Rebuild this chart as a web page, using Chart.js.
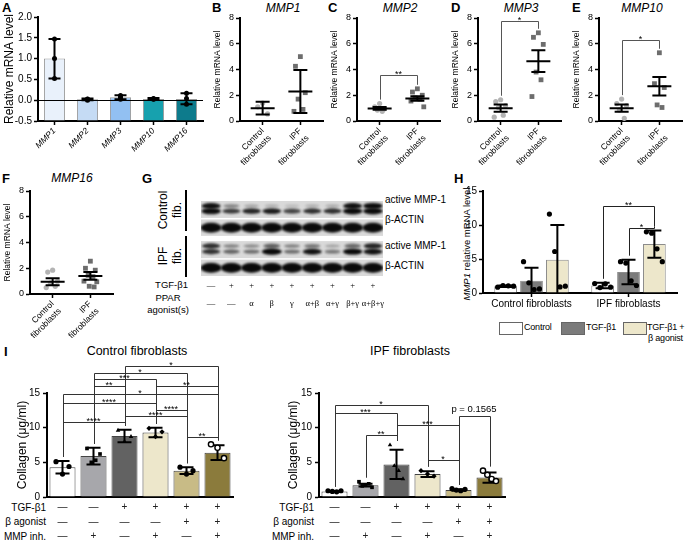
<!DOCTYPE html>
<html>
<head>
<meta charset="utf-8">
<script src="https://cdn.jsdelivr.net/npm/chart.js@4.4.1/dist/chart.umd.min.js"></script>
<style>
body { margin: 0; background: #fff; }
#fig { position: relative; width: 685px; height: 541px; overflow: hidden; background: #fff;
  font-family: Arial, "Liberation Sans", Helvetica, sans-serif; color: #000; }
#fig canvas { position: absolute; }
.t { position: absolute; white-space: nowrap; line-height: 1; }
.lt { font-weight: bold; font-size: 13px; }
.ttl { font-style: italic; font-size: 12px; transform: translateX(-50%); }
.sm { font-size: 10px; }
.lg { font-size: 9px; letter-spacing: -0.2px; }
.rot { transform: translate(-50%, -50%) rotate(-90deg); text-align: center; }
.vl { position: absolute; width: 0; border-left: 2px solid #000; }
.box { position: absolute; width: 22px; height: 11px; border: 1px solid #666; }
</style>
</head>
<body>
<div id="fig">
  <div class="t lt" style="left:2px;top:1px">A</div>
  <div class="t lt" style="left:212px;top:1px">B</div>
  <div class="t lt" style="left:328px;top:1px">C</div>
  <div class="t lt" style="left:451px;top:1px">D</div>
  <div class="t lt" style="left:572px;top:1px">E</div>
  <div class="t lt" style="left:2px;top:172px">F</div>
  <div class="t lt" style="left:142px;top:172px">G</div>
  <div class="t lt" style="left:454px;top:172px">H</div>
  <div class="t lt" style="left:4px;top:345px">I</div>

  <div class="t ttl" style="left:283px;top:2px">MMP1</div>
  <div class="t ttl" style="left:400px;top:2px">MMP2</div>
  <div class="t ttl" style="left:521px;top:2px">MMP3</div>
  <div class="t ttl" style="left:642px;top:2px">MMP10</div>
  <div class="t ttl" style="left:72px;top:172px">MMP16</div>

  <!-- G labels -->
  <div class="t rot" style="left:170px;top:210px;font-size:12px;line-height:14px">Control<br>fib.</div>
  <div class="vl" style="left:185px;top:190px;height:41px"></div>
  <div class="t rot" style="left:170px;top:256px;font-size:12px;line-height:14px">IPF<br>fib.</div>
  <div class="vl" style="left:185px;top:236px;height:41px"></div>
  <div class="t" style="right:497px;top:280px;font-size:9.5px">TGF-β1</div>
  <div class="t" style="left:168px;top:292px;font-size:9.5px;line-height:12px;text-align:center;transform:translateX(-50%)">PPAR<br>agonist(s)</div>
  <div class="t sm" style="left:385px;top:195px">active MMP-1</div>
  <div class="t sm" style="left:385px;top:215px">β-ACTIN</div>
  <div class="t sm" style="left:385px;top:241px">active MMP-1</div>
  <div class="t sm" style="left:385px;top:261px">β-ACTIN</div>

  <!-- H -->
  <div class="t rot" style="left:467px;top:244px;font-size:9.5px"><i>MMP1</i> relative mRNA level</div>
  <div class="box" style="left:499px;top:322px;background:#fff"></div>
  <div class="t lg" style="left:524px;top:323px">Control</div>
  <div class="box" style="left:561px;top:322px;background:#7b7b7b"></div>
  <div class="t lg" style="left:586px;top:323px">TGF-β1</div>
  <div class="box" style="left:623px;top:322px;background:#ede7cb"></div>
  <div class="t lg" style="left:647px;top:323px">TGF-β1 +</div>
  <div class="t lg" style="left:648px;top:334px">β agonist</div>

  <!-- I -->
  <div class="t" style="left:137px;top:345px;font-size:12.5px;transform:translateX(-50%)">Control fibroblasts</div>
  <div class="t" style="left:410px;top:345px;font-size:12.5px;transform:translateX(-50%)">IPF fibroblasts</div>
  <div class="t sm" style="right:639px;top:503px">TGF-β1</div>
  <div class="t sm" style="right:639px;top:517px">β agonist</div>
  <div class="t sm" style="right:639px;top:532px">MMP inh.</div>
  <div class="t sm" style="right:371px;top:503px">TGF-β1</div>
  <div class="t sm" style="right:371px;top:517px">β agonist</div>
  <div class="t sm" style="right:371px;top:532px">MMP inh.</div>
</div>

<script>
// ---- A: MMP expression in control fibroblasts
const aGenes = ['MMP1', 'MMP2', 'MMP3', 'MMP10', 'MMP16'];
const aMeans = [1.0, 0.02, 0.07, 0.03, 0.03];
const aLow = [0.52, 0.0, 0.02, 0.01, -0.1];
const aHigh = [1.47, 0.04, 0.12, 0.05, 0.17];
const aDots = [[1.47, 1.0, 0.52], [0.0, 0.03, 0.02], [0.02, 0.07, 0.11], [0.02, 0.03, 0.04], [-0.1, 0.04, 0.17]];

// ---- B-F: control vs IPF fibroblasts
const groups = ['Control fibroblasts', 'IPF fibroblasts'];
const bCtrl = [1.4, 1.1, 0.55];
const bIpf = [5.0, 4.25, 2.2, 1.7, 0.9, 0.75];
const bMean = [1.0, 2.3];
const bErr = [0.5, 1.67];

const cCtrl = [1.35, 1.1, 0.95, 0.85, 0.75];
const cIpf = [2.5, 2.25, 2.0, 1.8, 1.7, 1.55, 1.1];
const cMean = [0.98, 1.75];
const cErr = [0.1, 0.17];
const cSig = { v: 3.6, t: '**' };

const dCtrl = [1.65, 1.5, 1.2, 1.05, 0.45, 0.3];
const dIpf = [6.85, 6.5, 5.95, 3.8, 3.2, 1.9];
const dMean = [1.0, 4.65];
const dErr = [0.28, 0.84];
const dSig = { v: 7.8, t: '*' };

const eCtrl = [1.7, 1.35, 1.2, 0.85, 0.2];
const eIpf = [5.3, 2.9, 2.6, 1.25, 1.05];
const eMean = [1.0, 2.7];
const eErr = [0.28, 0.72];
const eSig = { v: 6.3, t: '*' };

const fCtrl = [1.85, 1.7, 1.0, 0.85, 0.6, 0.5];
const fIpf = [2.55, 2.0, 1.85, 1.45, 1.35, 1.0, 0.95, 0.6, 0.55];
const fMean = [0.95, 1.4];
const fErr = [0.28, 0.3];

// ---- G: western blot band intensity (0 = none, 1 = saturated)
const blotTgf = ['—', '+', '+', '+', '+', '+', '+', '+', '+'];
const blotAgonist = ['—', '—', 'α', 'β', 'γ', 'α+β', 'α+γ', 'β+γ', 'α+β+γ'];
const ctrlUpper = [0.85, 0.3, 0.15, 0.1, 0.05, 0.1, 0.12, 0.85, 0.9];
const ctrlLower = [0.9, 0.65, 0.75, 0.8, 0.6, 0.7, 0.7, 0.95, 0.95];
const ctrlActin = [1, 1, 1, 1, 1, 1, 1, 1, 1];
const ipfUpper = [0.7, 0.3, 0.25, 0.5, 0.3, 0.35, 0.15, 0.45, 0.75];
const ipfLower = [0.7, 0.45, 0.4, 1.0, 0.4, 0.85, 0.35, 0.9, 0.85];
const ipfActin = [0.95, 0.95, 0.95, 1, 1, 1, 1, 0.95, 1];

// ---- H: MMP1 mRNA after TGF-b1 / b agonist
const hGroups = ['Control fibroblasts', 'IPF fibroblasts'];
const hTreat = ['Control', 'TGF-β1', 'TGF-β1 + β agonist'];
const hMeans = [[1.0, 1.1], [1.8, 3.1], [4.9, 7.2]];
const hSd = [[0.1, 0.4], [1.9, 1.8], [5.1, 2.0]];
const hDots = [
  [[0.85, 1.1, 1.05, 1.0], [1.4, 0.8, 1.35, 0.85]],
  [[4.6, 1.5, 0.5, 0.6], [4.6, 4.4, 1.8, 1.1]],
  [[11.6, 6.1, 0.9, 1.0], [9.0, 8.8, 6.5, 4.6]]
];

// ---- I: collagen
const iTgf = ['—', '—', '+', '+', '+', '+'];
const iBeta = ['—', '—', '—', '—', '+', '+'];
const iMmp = ['—', '+', '—', '+', '—', '+'];
const ctrlMeans = [4.3, 5.9, 8.8, 9.3, 3.8, 6.4];
const ctrlSd = [0.9, 1.2, 0.9, 0.7, 0.5, 1.05];
const ctrlDots = [[5.1, 3.3, 4.4], [7.0, 5.0, 5.3, 6.2], [9.6, 8.0, 8.7], [9.9, 8.7, 9.4], [4.3, 3.3, 3.8], [7.6, 7.1, 5.6]];
const ctrlSig = [[2, 5, 18.9, '*'], [1, 4, 17.9, '*'], [1, 3, 17.0, '***'], [1, 2, 16.0, '**'], [3, 5, 16.0, '**'],
  [0, 5, 14.8, '*'], [0, 3, 13.6, '****'], [3, 4, 12.6, '****'], [2, 4, 11.7, '****'], [0, 2, 10.8, '****'], [4, 5, 8.7, '**']];
const ipfMeans = [0.8, 1.7, 4.7, 3.3, 1.0, 2.8];
const ipfSd = [0.08, 0.2, 2.1, 0.4, 0.1, 0.75];
const ipfDots = [[0.9, 0.8, 0.75, 0.9], [2.2, 1.6, 1.7, 1.9, 1.4], [7.5, 4.5, 3.8, 2.6], [3.8, 3.3, 3.0], [1.2, 1.0, 0.9, 1.1], [3.8, 3.2, 2.6, 2.3]];
const ipfSig = [[0, 3, 13.3, '*'], [0, 2, 12.1, '***'], [4, 5, 11.7, 'p = 0.1565'], [2, 4, 10.4, '***'], [1, 2, 9.0, '**'], [3, 4, 5.3, '*']];

Chart.defaults.font.family = 'Arial, "Liberation Sans", Helvetica, sans-serif';
Chart.defaults.color = '#000';
Chart.defaults.animation = false;
Chart.defaults.responsive = false;
Chart.defaults.devicePixelRatio = 1;
Chart.defaults.events = [];
Chart.defaults.plugins.legend.display = false;
Chart.defaults.plugins.tooltip.enabled = false;

function place(id, left, top, w, h) {
  const c = document.createElement('canvas');
  c.id = id;
  c.width = w;
  c.height = h;
  c.style.left = left + 'px';
  c.style.top = top + 'px';
  c.style.width = w + 'px';
  c.style.height = h + 'px';
  document.getElementById('fig').appendChild(c);
  return c;
}

// error bars, dots, mean lines and significance brackets
const marks = {
  id: 'marks',
  afterDatasetsDraw(chart, args, opts) {
    const ctx = chart.ctx;
    const ys = chart.scales.y;
    const spots = {};
    ctx.save();
    if (opts.zeroLine) {
      const y0 = Math.round(ys.getPixelForValue(0)) + 0.5;
      ctx.strokeStyle = '#000';
      ctx.lineWidth = 1.2;
      ctx.beginPath();
      ctx.moveTo(chart.chartArea.left, y0);
      ctx.lineTo(chart.chartArea.right, y0);
      ctx.stroke();
    }
    chart.data.datasets.forEach((ds, di) => {
      const meta = chart.getDatasetMeta(di);
      if (meta.type === 'bar') {
        meta.data.forEach((bar, i) => {
          const dots = ds.dots ? ds.dots[i] : [];
          const hi = ds.hi ? ds.hi[i] : ds.data[i];
          if (ds.hi) {
            const lo = ds.lo[i];
            const yl = ys.getPixelForValue(Math.max(lo, ys.min));
            const yh = ys.getPixelForValue(hi);
            const cw = opts.cap || 6;
            ctx.strokeStyle = '#000';
            ctx.lineWidth = 2;
            ctx.beginPath();
            ctx.moveTo(bar.x, yl);
            ctx.lineTo(bar.x, yh);
            ctx.moveTo(bar.x - cw, yh);
            ctx.lineTo(bar.x + cw, yh);
            if (lo > ys.min) {
              ctx.moveTo(bar.x - cw, yl);
              ctx.lineTo(bar.x + cw, yl);
            }
            ctx.stroke();
          }
          const n = dots.length;
          const step = n > 1 ? bar.width * (opts.spread || 0) / (n - 1) : 0;
          dots.forEach((v, k) => {
            const style = Array.isArray(ds.dotStyle) ? ds.dotStyle[i] : (ds.dotStyle || 'circle');
            const hollow = ds.dotHollow ? ds.dotHollow[i] : false;
            ctx.fillStyle = hollow ? '#fff' : '#000';
            ctx.strokeStyle = '#000';
            ctx.lineWidth = 1.4;
            Chart.helpers.drawPoint(ctx, { pointStyle: style, radius: opts.dotR || 2.6, rotation: 0, borderWidth: hollow ? 1.4 : 0 },
              bar.x + (k - (n - 1) / 2) * step, ys.getPixelForValue(v));
          });
          spots[di + ':' + i] = { x: bar.x, top: Math.max(hi, ...dots, ds.data[i]) };
        });
      } else if (ds.mean !== undefined) {
        const x = chart.scales.x.getPixelForValue(ds.group);
        const ym = ys.getPixelForValue(ds.mean);
        const y1 = ys.getPixelForValue(ds.mean + ds.err);
        const y2 = ys.getPixelForValue(ds.mean - ds.err);
        ctx.strokeStyle = '#000';
        ctx.lineWidth = 2;
        ctx.beginPath();
        ctx.moveTo(x - 12, ym); ctx.lineTo(x + 12, ym);
        ctx.moveTo(x, y1); ctx.lineTo(x, y2);
        ctx.moveTo(x - 7, y1); ctx.lineTo(x + 7, y1);
        ctx.moveTo(x - 7, y2); ctx.lineTo(x + 7, y2);
        ctx.stroke();
        spots[di + ':0'] = { x, top: Math.max(...ds.data.map(p => p.y), ds.mean + ds.err) };
      }
    });
    ctx.lineWidth = 1;
    ctx.strokeStyle = opts.bracketColor || '#333';
    ctx.fillStyle = '#000';
    ctx.textAlign = 'center';
    (opts.brackets || []).forEach(b => {
      const A = spots[b.a], B = spots[b.b];
      const yb = Math.round(ys.getPixelForValue(b.v)) + 0.5;
      const ya = ys.getPixelForValue(A.top) - 4;
      const yc = ys.getPixelForValue(B.top) - 4;
      ctx.beginPath();
      ctx.moveTo(Math.round(A.x) + 0.5, ya);
      ctx.lineTo(Math.round(A.x) + 0.5, yb);
      ctx.lineTo(Math.round(B.x) + 0.5, yb);
      ctx.lineTo(Math.round(B.x) + 0.5, yc);
      ctx.stroke();
      if (b.t.startsWith('p')) {
        ctx.font = '9.5px Arial, "Liberation Sans", sans-serif';
        ctx.textBaseline = 'bottom';
        ctx.fillText(b.t, (A.x + B.x) / 2, yb - 2);
      } else {
        ctx.font = '9px Arial, "Liberation Sans", sans-serif';
        ctx.textBaseline = 'alphabetic';
        ctx.fillText(b.t, (A.x + B.x) / 2, yb + 1.5);
      }
    });
    ctx.restore();
  }
};

const axisLine = { color: '#000', width: 2 };
const tickMarks = { drawOnChartArea: false, tickLength: 4, tickColor: '#000', tickWidth: 1.5 };
const noTicks = { display: false, drawTicks: false, tickLength: 0 };

// ---- A
new Chart(place('cA', 0, 0, 208, 165), {
  type: 'bar',
  data: {
    labels: aGenes,
    datasets: [{
      data: aMeans, lo: aLow, hi: aHigh, dots: aDots, base: -0.5,
      backgroundColor: ['#e9f1fb', '#c5dbf4', '#92c0f2', '#17a1ae', '#0d7b8c'],
      borderColor: '#9a9a9a', borderWidth: 1, categoryPercentage: 1, barPercentage: 0.64
    }]
  },
  options: {
    layout: { padding: { left: 0, top: 17, right: 5, bottom: 0 } },
    scales: {
      x: {
        ticks: { font: { size: 8.5, style: 'italic' }, minRotation: 45, maxRotation: 45, autoSkip: false, padding: 1 },
        grid: { ...tickMarks, offset: false }, border: axisLine,
        afterFit: s => { s.height = 44; }
      },
      y: {
        min: -0.5, max: 2,
        ticks: { stepSize: 0.5, font: { size: 10 }, padding: 2, callback: v => v.toFixed(1) },
        title: { display: true, text: 'Relative mRNA level', font: { size: 12 }, padding: { top: 2, bottom: 0 } },
        grid: tickMarks, border: axisLine,
        afterFit: s => { s.width = 38; }
      }
    },
    plugins: { marks: { zeroLine: true, cap: 6, spread: 0, dotR: 2.5 } }
  },
  plugins: [marks]
});

// ---- B-F dot plots
const jit = k => [0, -0.13, 0.13, -0.06, 0.07, -0.17, 0.17, -0.03, 0.1][k % 9];

function dotPlot(id, left, top, ctrl, ipf, mean, err, sig) {
  new Chart(place(id, left, top, 115, 165), {
    type: 'scatter',
    data: {
      datasets: [
        { data: ctrl.map((v, k) => ({ x: jit(k), y: v })), group: 0, mean: mean[0], err: err[0],
          pointStyle: 'circle', pointRadius: 2.6, pointBackgroundColor: '#b3b3b3', pointBorderWidth: 0 },
        { data: ipf.map((v, k) => ({ x: 1 + jit(k), y: v })), group: 1, mean: mean[1], err: err[1],
          pointStyle: 'rect', pointRadius: 3.4, pointBackgroundColor: '#6d6d6d', pointBorderWidth: 0 }
      ]
    },
    options: {
      layout: { padding: { left: 0, top: 18, right: 2, bottom: 0 } },
      scales: {
        x: {
          type: 'linear', min: -0.6, max: 1.6,
          afterBuildTicks: s => { s.ticks = [{ value: 0 }, { value: 1 }]; },
          ticks: { autoSkip: false, minRotation: 45, maxRotation: 45, font: { size: 8.5 }, padding: 1,
            callback: v => v === 0 ? ['Control', 'fibroblasts'] : ['IPF', 'fibroblasts'] },
          grid: tickMarks, border: axisLine,
          afterFit: s => { s.height = 44; }
        },
        y: {
          min: 0, max: 8,
          ticks: { stepSize: 2, font: { size: 9 }, padding: 2 },
          title: { display: true, text: 'Relative mRNA level', font: { size: 8.5 }, padding: { top: 1, bottom: 0 } },
          grid: tickMarks, border: axisLine,
          afterFit: s => { s.width = 28; }
        }
      },
      plugins: { marks: { bracketColor: '#555', brackets: sig ? [{ a: '0:0', b: '1:0', v: sig.v, t: sig.t }] : [] } }
    },
    plugins: [marks]
  });
}

dotPlot('cB', 212, 0, bCtrl, bIpf, bMean, bErr, null);
dotPlot('cC', 329, 0, cCtrl, cIpf, cMean, cErr, cSig);
dotPlot('cD', 450, 0, dCtrl, dIpf, dMean, dErr, dSig);
dotPlot('cE', 571, 0, eCtrl, eIpf, eMean, eErr, eSig);
dotPlot('cF', 2, 173, fCtrl, fIpf, fMean, fErr, null);

// ---- G blot
const bandCache = {};
function bandImg(lvl, kind) {
  const key = kind + lvl;
  if (bandCache[key]) return bandCache[key];
  const big = kind === 'actin';
  const w = big ? 21 : 14 + 6 * lvl;
  const h = big ? 10 : 2.5 + 4 * lvl;
  const c = document.createElement('canvas');
  c.width = Math.ceil(w + 6);
  c.height = Math.ceil(h + 6);
  const g = c.getContext('2d');
  g.filter = 'blur(1px)';
  g.fillStyle = `rgba(10,10,10,${Math.min(1, 0.12 + lvl)})`;
  g.beginPath();
  g.ellipse(c.width / 2, c.height / 2, w / 2, h / 2, 0, 0, Math.PI * 2);
  g.fill();
  bandCache[key] = c;
  return c;
}

function band(levels, row, kind) {
  return {
    data: levels.map((v, i) => ({ x: i + 1, y: row })),
    pointStyle: ctx => bandImg(levels[ctx.dataIndex] ?? 0, kind),
    pointRadius: 10
  };
}

const strips = {
  id: 'strips',
  beforeDatasetsDraw(chart) {
    const { ctx, chartArea, scales: { y } } = chart;
    ctx.save();
    ctx.fillStyle = '#d9d9d9';
    [[0, 0.97], [1.06, 2.0], [2.3, 3.28], [3.36, 4.3]].forEach(([a, b]) => {
      const ya = y.getPixelForValue(a), yb = y.getPixelForValue(b);
      ctx.fillRect(chartArea.left, ya, chartArea.right - chartArea.left, yb - ya);
    });
    ctx.restore();
  }
};

new Chart(place('cG', 190, 190, 205, 126), {
  type: 'scatter',
  data: {
    datasets: [
      band(ctrlUpper, 0.28, 'mmp'), band(ctrlLower, 0.58, 'mmp'), band(ctrlActin, 1.53, 'actin'),
      band(ipfUpper, 2.58, 'mmp'), band(ipfLower, 2.9, 'mmp'), band(ipfActin, 3.83, 'actin')
    ]
  },
  options: {
    layout: { padding: { left: 0, top: 0, right: 12, bottom: 0 } },
    scales: {
      x: {
        type: 'linear', min: 0.5, max: 9.5,
        afterBuildTicks: s => { s.ticks = blotTgf.map((_, i) => ({ value: i + 1 })); },
        ticks: { autoSkip: false, maxRotation: 0, padding: 0,
          font: { size: 8.5, lineHeight: 2.2, family: '"Liberation Serif", "DejaVu Serif", serif' },
          callback: (v, i) => [blotTgf[i], blotAgonist[i]] },
        grid: noTicks, border: { display: false },
        afterFit: s => { s.height = 40; }
      },
      y: { display: false, min: 0, max: 4.3, reverse: true }
    }
  },
  plugins: [strips]
});

// ---- H
new Chart(place('cH', 455, 180, 230, 135), {
  type: 'bar',
  data: {
    labels: hGroups,
    datasets: hTreat.map((t, k) => ({
      label: t, data: hMeans[k],
      lo: hMeans[k].map((m, i) => m - hSd[k][i]), hi: hMeans[k].map((m, i) => m + hSd[k][i]),
      dots: hDots[k],
      backgroundColor: ['#ffffff', '#7b7b7b', '#ede7cb'][k],
      borderColor: '#8c8c8c', borderWidth: 1, categoryPercentage: 0.8, barPercentage: 0.88
    }))
  },
  options: {
    layout: { padding: { left: 0, top: 11, right: 8, bottom: 0 } },
    scales: {
      x: {
        ticks: { font: { size: 10 }, padding: 1, maxRotation: 0, autoSkip: false },
        grid: { ...tickMarks, offset: false }, border: axisLine,
        afterFit: s => { s.height = 22; }
      },
      y: {
        min: 0, max: 15,
        ticks: { stepSize: 5, font: { size: 10 }, padding: 2 },
        grid: tickMarks, border: axisLine,
        afterFit: s => { s.width = 28; }
      }
    },
    plugins: { marks: { cap: 7, spread: 0.7, dotR: 2.6, bracketColor: '#222',
      brackets: [{ a: '0:1', b: '2:1', v: 12.8, t: '**' }, { a: '1:1', b: '2:1', v: 9.5, t: '*' }] } }
  },
  plugins: [marks]
});

// ---- I
function collagen(id, left, padLeft, yw, means, sd, dots, sig) {
  new Chart(place(id, left, 355, padLeft + yw + 193, 186), {
    type: 'bar',
    data: {
      labels: iTgf.map((t, i) => [t, iBeta[i], iMmp[i]]),
      datasets: [{
        data: means, lo: means.map((m, i) => m - sd[i]), hi: means.map((m, i) => m + sd[i]), dots,
        dotStyle: ['circle', 'rect', 'triangle', 'rectRot', 'circle', 'circle'],
        dotHollow: [false, false, false, false, false, true],
        backgroundColor: ['#ffffff', '#a7a7ab', '#626262', '#ede7cb', '#c8bb86', '#8b7b3c'],
        borderColor: '#444', borderWidth: 1, categoryPercentage: 1, barPercentage: 0.84
      }]
    },
    options: {
      layout: { padding: { left: padLeft, top: 38, right: 7, bottom: 0 } },
      scales: {
        x: {
          ticks: { font: { size: 10, lineHeight: 1.45 }, padding: 3, maxRotation: 0, autoSkip: false, color: '#222' },
          grid: noTicks, border: axisLine,
          afterFit: s => { s.height = 44; }
        },
        y: {
          min: 0, max: 15,
          ticks: { stepSize: 5, font: { size: 10 }, padding: 3 },
          title: { display: true, text: 'Collagen (μg/ml)', font: { size: 12 }, padding: { top: 4, bottom: 0 } },
          grid: tickMarks, border: axisLine,
          afterFit: s => { s.width = yw; }
        }
      },
      plugins: { marks: { cap: 7, spread: 0.5, dotR: 2.6, bracketColor: '#333',
        brackets: sig.map(([a, b, v, t]) => ({ a: '0:' + a, b: '0:' + b, v, t })) } }
    },
    plugins: [marks]
  });
}

collagen('cI1', 0, 11, 36, ctrlMeans, ctrlSd, ctrlDots, ctrlSig);
collagen('cI2', 268, 14, 37, ipfMeans, ipfSd, ipfDots, ipfSig);
</script>
</body>
</html>
